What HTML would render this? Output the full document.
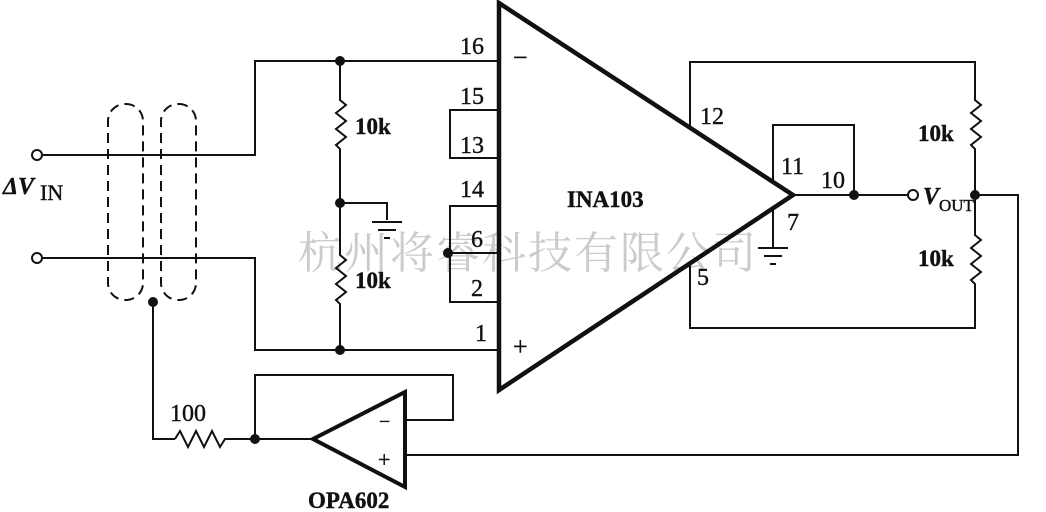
<!DOCTYPE html>
<html><head><meta charset="utf-8"><style>
html,body{margin:0;padding:0;background:#fff;}
svg{display:block;}
text{font-family:"Liberation Serif","Noto Serif CJK SC",serif;fill:#111;}
</style></head><body>
<svg width="1046" height="512" viewBox="0 0 1046 512" xmlns="http://www.w3.org/2000/svg">
<text x="528" y="268" text-anchor="middle" font-size="44" style="fill:#cbcbcb;font-family:'Noto Serif CJK SC','Noto Sans CJK SC',serif" letter-spacing="2">杭州将睿科技有限公司</text>
<g stroke="#111" stroke-width="2" fill="none">
<circle cx="37" cy="155" r="5" fill="#fff"/>
<circle cx="37" cy="258" r="5" fill="#fff"/>
<path d="M42 155H255V61H499"/>
<path d="M42 258H255V350H499"/>
<g stroke-dasharray="10,6">
<rect x="108" y="104" width="35" height="196" rx="17"/>
<rect x="161" y="104" width="35" height="196" rx="17"/>
</g>
<path d="M153 302V439H175"/>
<path d="M175 439l5 -8l8 16l8 -16l8 16l8 -16l8 16l5 -8H313"/>
<path d="M340 61V100l6 5l-10 8l10 8l-10 8l10 8l-10 8l4 4V255l6 5l-10 8l10 8l-10 8l10 8l-10 8l4 4V350"/>
<path d="M340 203H387V220"/>
<path d="M372 222H402M378 230H396M384 238H390"/>
<path d="M499 110H450V158H499"/>
<path d="M499 206H450V302H499"/>
<path d="M448 253H499"/>
<path d="M255 439V375H453V420H405"/>
<path d="M405 455H1018V195H975"/>
<path d="M690 128V62H975V100l6 5l-10 8l10 8l-10 8l10 8l-10 8l4 4V235l6 5l-10 8l10 8l-10 8l10 8l-10 8l4 4V328H690V262"/>
<path d="M773 180V125H854V195"/>
<path d="M793 195H908"/>
<circle cx="913" cy="195" r="5" fill="#fff"/>
<path d="M773 207V247"/>
<path d="M758 248H788M764 256H782M770 264H776"/>
</g>
<path d="M499 3L793 195L499 390Z" fill="none" stroke="#111" stroke-width="4.5" stroke-linejoin="miter"/>
<path d="M405 392V487L313 439Z" fill="none" stroke="#111" stroke-width="4"/>
<g fill="#111">
<circle cx="340" cy="61" r="5"/><circle cx="340" cy="350" r="5"/><circle cx="340" cy="203" r="5"/>
<circle cx="448" cy="253" r="5"/><circle cx="153" cy="302" r="5"/><circle cx="255" cy="439" r="5"/>
<circle cx="854" cy="195" r="5"/><circle cx="975" cy="195" r="5"/>
</g>
<g font-size="24" style="stroke:#111;stroke-width:0.4">
<text x="460" y="54">16</text><text x="460" y="104">15</text><text x="460" y="153">13</text>
<text x="460" y="197">14</text><text x="471" y="247">6</text><text x="471" y="296">2</text>
<text x="475" y="341">1</text>
<text x="513" y="66" font-size="26">−</text><text x="513" y="355" font-size="26">+</text>
<text x="567" y="207" font-weight="bold" font-size="23">INA103</text>
<text x="700" y="124">12</text><text x="781" y="174">11</text><text x="821" y="188">10</text>
<text x="787" y="230">7</text><text x="697" y="285">5</text>
<text x="355" y="134" font-weight="bold" font-size="23">10k</text><text x="355" y="288" font-weight="bold" font-size="23">10k</text>
<text x="918" y="141" font-weight="bold" font-size="23">10k</text><text x="918" y="266" font-weight="bold" font-size="23">10k</text>
<text x="170" y="421">100</text>
<text x="308" y="508" font-weight="bold" font-size="23">OPA602</text>
<text x="379" y="428" font-size="20">−</text><text x="378" y="467" font-size="22">+</text>
<text x="3" y="194" font-style="italic" font-weight="bold" font-size="24">ΔV</text>
<text x="40" y="200" font-size="22">IN</text>
<text x="923" y="204" font-style="italic" font-weight="bold" font-size="24">V</text>
<text x="939" y="211" font-size="17">OUT</text>
</g>
</svg>
</body></html>
